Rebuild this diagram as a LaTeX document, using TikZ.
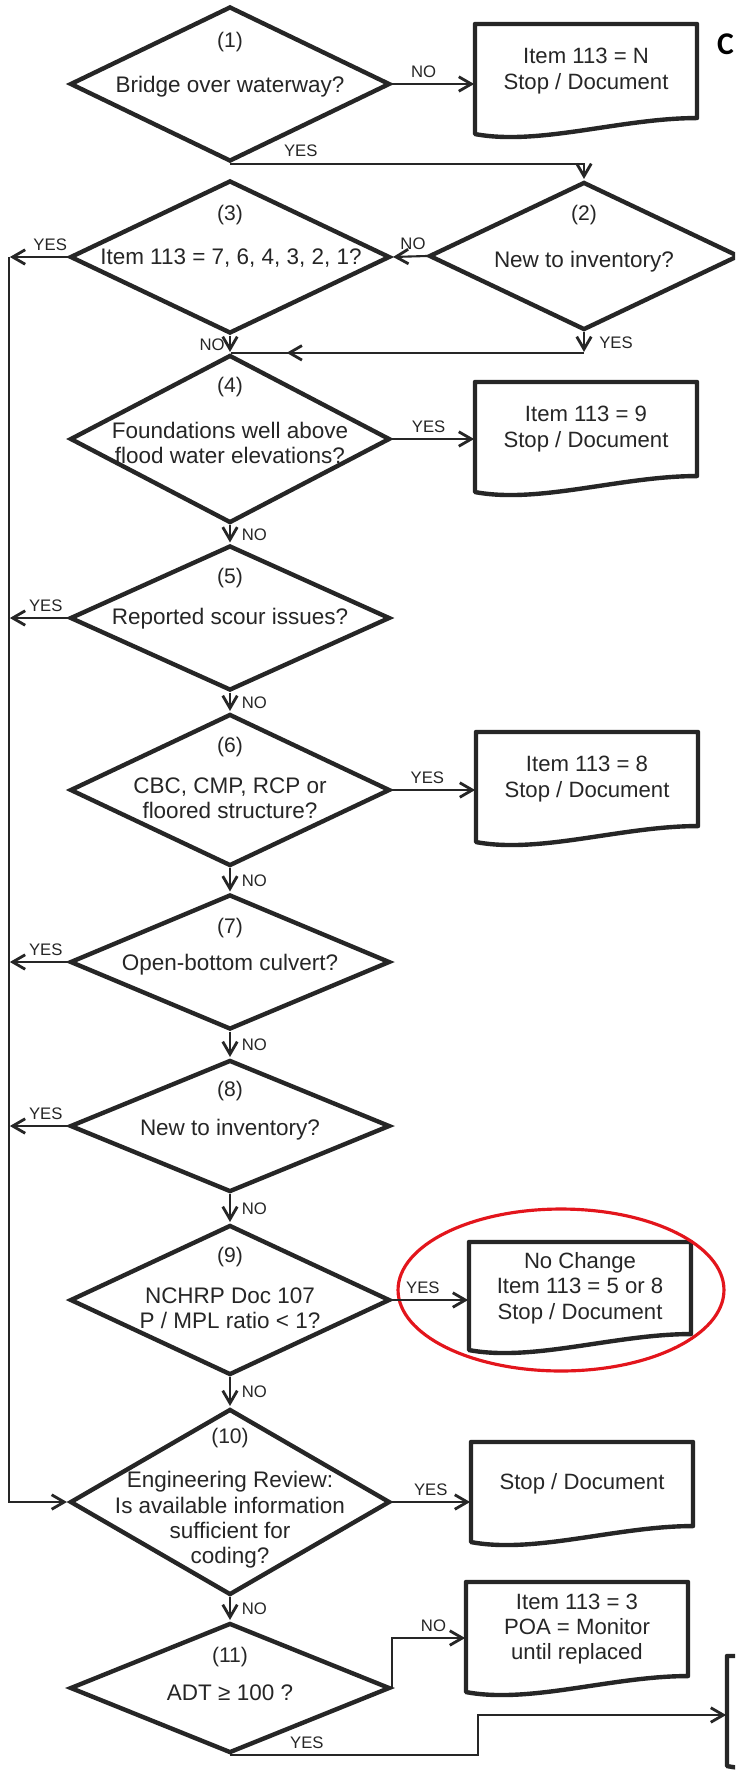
\documentclass[tikz,border=0pt]{standalone}
\usepackage{fontspec}
\setmainfont{Liberation Sans}
\newfontfamily\calfont{Carlito}
\usetikzlibrary{shapes.geometric,arrows.meta,positioning,decorations.markings}

\definecolor{ink}{HTML}{262626}
\definecolor{markred}{HTML}{E3151C}

\def\boxwidth{4.4cm}
\def\diawidth{6.4cm}

% outline of a document box, wavy bottom
\newcommand{\docoutline}[1]{%
  \draw[doc line] (#1.north west) -- (#1.north east) -- (#1.south east)
    .. controls ([xshift=-1.52cm]#1.south east) and ([xshift=1.28cm,yshift=-0.56cm]#1.south west)
    .. ([yshift=-0.32cm]#1.south west) -- cycle;}

\begin{document}
\begin{tikzpicture}[x=0.02cm, y=-0.02cm, color=ink, line width=1.2pt, shorten >=0.5pt, ->,
    >={Straight Barb[length=2.5mm,width=2.9mm,line width=1.6pt]}]
    \tikzstyle{decision}=[diamond, draw=ink, line width=2.5pt, minimum width=\diawidth, inner sep=0pt]
    \tikzstyle{doc}=[rectangle, minimum width=\boxwidth, minimum height=1.84cm, align=center,
        inner sep=0pt, font=\fontsize{12.6}{14.4}\selectfont]
    \tikzstyle{doc line}=[draw=ink, line width=2.5pt, line join=round]
    \tikzstyle{qtext}=[align=center, inner sep=0pt, font=\fontsize{12.8}{14.4}\selectfont]
    \tikzstyle{num}=[inner sep=0pt, font=\fontsize{12}{13}\selectfont]
    \tikzstyle{lbl}=[inner sep=1pt, font=\fontsize{9.5}{10}\selectfont]
    \tikzstyle{mid arrow}=[postaction={decorate},
        decoration={markings, mark=at position 0.84 with {\arrow{>}}}]
    \tikzstyle{highlight}=[ellipse, draw=markred, line width=1.8pt,
        minimum width=6.52cm, minimum height=3.24cm]

    \useasboundingbox (0,0) rectangle (735,1775);
    \clip (0,0) rectangle (735,1775);
    \fill[white] (0,0) rectangle (735,1775);

    % Draw the decisions.
    \foreach \name/\y/\h in {1/84/3.1, 3/257/3.06, 4/439/3.36, 5/618/2.9, 6/790/3.04,
                             7/962/2.7, 8/1126/2.64, 9/1300/3.0, 10/1502/3.72, 11/1688/2.6}
        \node[decision, minimum height=\h cm] (D-\name) at (230,\y) {};
    \node[decision, minimum width=6.2cm, minimum height=2.96cm] (D-2) at (584,256) {};

    \foreach \name/\y in {1/42, 3/215, 4/387, 5/578, 6/747, 7/928, 8/1091, 9/1257, 10/1438, 11/1657}
        \node[num] (N-\name) at (230,\y) {(\name)};
    \node[num] (N-2) at (584,215) {(2)};

    \node[qtext] (Q-1) at (230,87) {Bridge over waterway?};
    \node[qtext] (Q-2) at (584,262) {New to inventory?};
    \node[qtext] (Q-3) at (231,258) {Item 113 = 7, 6, 4, 3, 2, 1?};
    \node[qtext] (Q-4) at (230,443) {Foundations well above\\flood water elevations?};
    \node[qtext] (Q-5) at (230,619) {Reported scour issues?};
    \node[qtext] (Q-6) at (230,798) {CBC, CMP, RCP or\\floored structure?};
    \node[qtext] (Q-7) at (230,965) {Open-bottom culvert?};
    \node[qtext] (Q-8) at (230,1130) {New to inventory?};
    \node[qtext] (Q-9) at (230,1308) {NCHRP Doc 107\\P / MPL ratio < 1?};
    \node[qtext] (Q-10) at (230,1520) {Engineering Review:\\Is available information\\sufficient for\\coding?};
    \node[qtext] (Q-11) at (230,1693) {ADT ≥ 100 ?};

    % Draw the result boxes.
    \node[doc] (B-N) at (586,71) {Item 113 = N\\Stop / Document};
    \node[doc] (B-9) at (586,429) {Item 113 = 9\\Stop / Document};
    \node[doc] (B-8) at (587,779) {Item 113 = 8\\Stop / Document};
    \node[doc, minimum height=1.8cm] (B-NC) at (580,1288) {No Change\\Item 113 = 5 or 8\\Stop / Document};
    \node[doc, minimum height=1.64cm] (B-SD) at (582,1484) {Stop / Document};
    \node[doc] (B-3) at (577,1629) {Item 113 = 3\\POA = Monitor\\until replaced};
    \node[doc] (B-X) at (838,1703) {};
    \foreach \b in {N,9,8,NC,SD,3,X}
        \docoutline{B-\b};

    \node[highlight] (H-9) at (561,1290) {};
    \node[anchor=west, inner sep=0pt, text=black, font=\calfont\bfseries\fontsize{18}{18}\selectfont] (C) at (716,44) {C};

    \coordinate (rail) at (9,0);

    % Connect the top decisions.
    \draw (D-1.east) -- node[lbl, above=0.8mm, pos=0.38] {NO} (D-1.east -| B-N.west);
    \draw (D-1.south) -| node[lbl, above=0.8mm, pos=0.1] {YES} (D-2.north);
    \draw (D-2.west) -- node[lbl, above=0.8mm, pos=0.4] {NO} (D-3.east);
    \draw (D-2.south) -- node[lbl, right=2.5mm] {YES} (D-2.south |- D-4.north);
    \draw[-, mid arrow] (D-2.south |- D-4.north) -- (D-4.north);
    \draw (D-3.south) -- node[lbl, left=0.5mm] {NO} (D-4.north);

    % YES branches to the left rail.
    \foreach \name/\p in {3/0.3, 5/0.375, 7/0.375, 8/0.375}
        \draw (D-\name.west) -- node[lbl, above=0.8mm, pos=\p] {YES} (D-\name.west -| rail);
    \draw (D-3.west -| rail) -- (D-10.west -| rail) -- (D-10.west);

    % NO chain down the middle.
    \foreach \a/\b in {4/5, 5/6, 6/7, 7/8, 8/9, 9/10, 10/11}
        \draw (D-\a.south) -- node[lbl, right=1.8mm] {NO} (D-\b.north);

    % YES branches to the result boxes.
    \foreach \name/\target/\p in {4/B-9/0.44, 6/B-8/0.42, 9/B-NC/0.4, 10/B-SD/0.49}
        \draw (D-\name.east) -- node[lbl, above=0.8mm, pos=\p] {YES} (D-\name.east -| \target.west);

    % Last decision.
    \draw (D-11.east) |- node[lbl, above=0.8mm, pos=0.78] {NO} ([yshift=-0.18cm]B-3.west);
    \draw (D-11.south) -- node[lbl, above=0.8mm, pos=0.31] {YES} ++(248,0) |- ([yshift=-0.24cm]B-X.west);
\end{tikzpicture}
\end{document}
